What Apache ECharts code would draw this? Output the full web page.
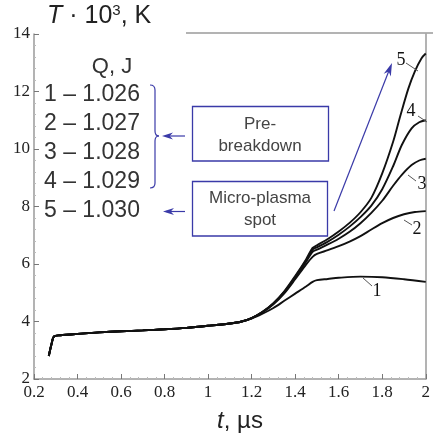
<!DOCTYPE html>
<html>
<head>
<meta charset="utf-8">
<script src="https://cdn.jsdelivr.net/npm/echarts@6/dist/echarts.min.js"></script>
<style>
html,body{margin:0;padding:0;background:#fff;}
#c{width:433px;height:439px;}
</style>
</head>
<body>
<div id="c"></div>
<script>
// ---- data (t in µs, T in 10^3 K) ----
const baseT = [0.268, 0.28, 0.292, 0.32, 0.4, 0.5, 0.6, 0.7, 0.8, 0.9, 1.0, 1.1, 1.15];
const baseV = [2.80, 3.20, 3.48, 3.52, 3.57, 3.62, 3.66, 3.69, 3.73, 3.78, 3.85, 3.93, 3.99];

const c1T = [1.2, 1.25, 1.3, 1.35, 1.4, 1.45, 1.48, 1.5, 1.55, 1.6, 1.7, 1.8, 1.9, 2.0];
const c1V = [4.10, 4.27, 4.47, 4.72, 4.97, 5.22, 5.38, 5.44, 5.48, 5.52, 5.56, 5.54, 5.47, 5.38];

const c2T = [1.2, 1.25, 1.3, 1.35, 1.4, 1.45, 1.48, 1.5, 1.55, 1.6, 1.65, 1.7, 1.75, 1.8, 1.85, 1.9, 1.95, 2.0];
const c2V = [4.12, 4.32, 4.60, 4.98, 5.47, 5.98, 6.25, 6.35, 6.48, 6.62, 6.78, 6.97, 7.20, 7.42, 7.60, 7.73, 7.81, 7.84];

const c3T = [1.2, 1.25, 1.3, 1.35, 1.4, 1.45, 1.48, 1.5, 1.55, 1.6, 1.65, 1.7, 1.75, 1.8, 1.85, 1.89, 1.935, 1.97, 2.0];
const c3V = [4.12, 4.33, 4.62, 5.01, 5.52, 6.08, 6.42, 6.50, 6.68, 6.88, 7.12, 7.42, 7.78, 8.20, 8.72, 9.10, 9.44, 9.60, 9.66];

const c4T = [1.2, 1.25, 1.3, 1.35, 1.4, 1.45, 1.48, 1.5, 1.55, 1.6, 1.65, 1.7, 1.75, 1.8, 1.85, 1.89, 1.935, 1.97, 2.0];
const c4V = [4.12, 4.33, 4.63, 5.03, 5.55, 6.12, 6.50, 6.58, 6.78, 7.02, 7.30, 7.63, 8.03, 8.60, 9.40, 10.14, 10.72, 10.93, 11.00];

const c5T = [1.2, 1.25, 1.3, 1.35, 1.4, 1.45, 1.48, 1.5, 1.55, 1.6, 1.65, 1.7, 1.75, 1.8, 1.85, 1.883, 1.92, 1.95, 1.98, 2.0];
const c5V = [4.12, 4.34, 4.64, 5.05, 5.58, 6.16, 6.56, 6.65, 6.87, 7.13, 7.43, 7.80, 8.30, 9.15, 10.25, 11.15, 12.10, 12.70, 13.15, 13.32];

const legendQ = ['1 \u2013 1.026', '2 \u2013 1.027', '3 \u2013 1.028', '4 \u2013 1.029', '5 \u2013 1.030'];
const curveNames = ['1', '2', '3', '4', '5'];

function pairs(tA, vA) {
  const out = [];
  for (let i = 0; i < tA.length; i++) out.push([tA[i], vA[i]]);
  return out;
}
function full(tA, vA) {
  return pairs(baseT, baseV).concat(pairs(tA, vA));
}
const curves = [[c1T, c1V], [c2T, c2V], [c3T, c3V], [c4T, c4V], [c5T, c5V]];

const BLUE = '#3a3aa8';
const AX = '#9a9a9a';
const SERIF = '"Liberation Serif", "DejaVu Serif", serif';
const SANS = '"Liberation Sans", Arial, sans-serif';

const chart = echarts.init(document.getElementById('c'), null, {renderer: 'canvas'});

const series = curves.map((c, i) => ({
  type: 'line',
  name: curveNames[i],
  data: full(c[0], c[1]),
  smooth: 0.3,
  symbol: 'none',
  lineStyle: {color: '#111', width: 1.9},
  z: 3,
  silent: true
}));

function arrowHead(tx, ty, dx, dy, len, w) {
  const n = Math.hypot(dx, dy); const ux = dx / n, uy = dy / n;
  const bx = tx - ux * len, by = ty - uy * len;
  const px = -uy * w, py = ux * w;
  const nx = tx - ux * len * 0.7, ny = ty - uy * len * 0.7;
  return [[tx, ty], [bx + px, by + py], [nx, ny], [bx - px, by - py]];
}

const graphics = [];
function ln(x1, y1, x2, y2, stroke, w, z) {
  graphics.push({type: 'line', shape: {x1: x1, y1: y1, x2: x2, y2: y2}, style: {stroke: stroke, lineWidth: w}, z: z || 5, silent: true});
}
function bz(x1, y1, cx, cy, x2, y2) {
  graphics.push({type: 'bezierCurve', shape: {x1: x1, y1: y1, cpx1: cx, cpy1: cy, x2: x2, y2: y2}, style: {stroke: BLUE, lineWidth: 1.2, fill: null}, z: 5, silent: true});
}
function txt(x, y, text, font, fill, align, extra) {
  const st = Object.assign({text: text, font: font, fill: fill, align: align || 'center', verticalAlign: 'middle'}, extra || {});
  graphics.push({type: 'text', x: x, y: y, style: st, z: 10, silent: true});
}

// top border (partial)
ln(186, 33, 433, 33, AX, 1.5);
// title
txt(47, 16, '{i|T} \u00b7 10{s|3}, K', '25px ' + SANS, '#222', 'left', {
  rich: {i: {font: 'italic 25px ' + SANS, fill: '#222'}, s: {font: '15px ' + SANS, fill: '#222', verticalAlign: 'top'}}
});
// x axis name
txt(240, 421, '{i|t}, \u00b5s', '24px ' + SANS, '#222', 'center', {rich: {i: {font: 'italic 24px ' + SANS, fill: '#222'}}});
// legend
txt(112, 67, 'Q, J', '22px ' + SANS, '#333', 'center');
legendQ.forEach((s, i) => txt(44, 95 + i * 29, s, '23px ' + SANS, '#333', 'left'));
// brace
bz(150, 85, 155, 85, 155, 90);
ln(155, 90, 155, 131, BLUE, 1.2);
bz(155, 131, 155, 136, 159, 136);
bz(159, 136, 155, 136, 155, 141);
ln(155, 141, 155, 183, BLUE, 1.2);
bz(155, 183, 155, 188, 150, 188);
// short arrows
[[136, 162], [211.5, 163]].forEach(a => {
  ln(185, a[0], a[1] + 3, a[0], BLUE, 1.2);
  graphics.push({type: 'polygon', shape: {points: arrowHead(a[1], a[0], -1, 0, 11, 3.5)}, style: {fill: BLUE}, z: 5, silent: true});
});
// boxes
graphics.push({type: 'rect', shape: {x: 192.5, y: 106.5, width: 136, height: 54.5}, style: {stroke: BLUE, lineWidth: 1.3, fill: null}, z: 5, silent: true});
graphics.push({type: 'rect', shape: {x: 192.5, y: 181.5, width: 135, height: 54.5}, style: {stroke: BLUE, lineWidth: 1.3, fill: null}, z: 5, silent: true});
txt(260, 124, 'Pre-', '17px ' + SANS, '#444');
txt(260, 146, 'breakdown', '17px ' + SANS, '#444');
txt(260, 198, 'Micro-plasma', '17px ' + SANS, '#444');
txt(260, 220, 'spot', '17px ' + SANS, '#444');
// diagonal arrow
ln(334, 211, 390, 68, BLUE, 1.2);
graphics.push({type: 'polygon', shape: {points: arrowHead(392, 63, 58, -148, 13, 3.8)}, style: {fill: BLUE}, z: 5, silent: true});
// curve labels and leaders
const lbls = [
  {t: '1', x: 377, y: 291, l: [363, 278, 372, 286]},
  {t: '2', x: 417, y: 229, l: [404, 220, 412, 225]},
  {t: '3', x: 422, y: 184, l: [408, 175, 416, 181]},
  {t: '4', x: 411, y: 111, l: [418, 116, 427, 122]},
  {t: '5', x: 401, y: 60, l: [406, 63, 418, 71]}
];
lbls.forEach(o => {
  txt(o.x, o.y, o.t, '18px ' + SERIF, '#111');
  ln(o.l[0], o.l[1], o.l[2], o.l[3], '#555', 1, 10);
});

const option = {
  animation: false,
  backgroundColor: '#fff',
  grid: {left: 34, right: 1, top: 34, bottom: 60, containLabel: false},
  xAxis: {
    type: 'value', min: 0.2, max: 2, interval: 0.2,
    axisLine: {show: true, onZero: false, lineStyle: {color: AX, width: 1.5}},
    axisTick: {show: true, inside: true, length: 5, lineStyle: {color: '#777'}},
    minorTick: {show: true, splitNumber: 5, length: 2, lineStyle: {color: '#bbb'}},
    axisLabel: {color: '#222', fontFamily: SERIF, fontSize: 17, margin: 5},
    splitLine: {show: false}
  },
  yAxis: [{
    type: 'value', min: 2, max: 14, interval: 2,
    axisLine: {show: true, onZero: false, lineStyle: {color: AX, width: 1.5}},
    axisTick: {show: true, inside: true, length: 5, lineStyle: {color: '#777'}},
    minorTick: {show: true, splitNumber: 5, length: 2, lineStyle: {color: '#bbb'}},
    axisLabel: {color: '#222', fontFamily: SERIF, fontSize: 17, margin: 4},
    splitLine: {show: false}
  }, {
    type: 'value', min: 2, max: 14, interval: 2, position: 'right',
    axisLine: {show: true, onZero: false, lineStyle: {color: AX, width: 1.5}},
    axisTick: {show: false}, axisLabel: {show: false}, splitLine: {show: false}
  }],
  series: series,
  graphic: graphics
};
chart.setOption(option);
</script>
</body>
</html>
